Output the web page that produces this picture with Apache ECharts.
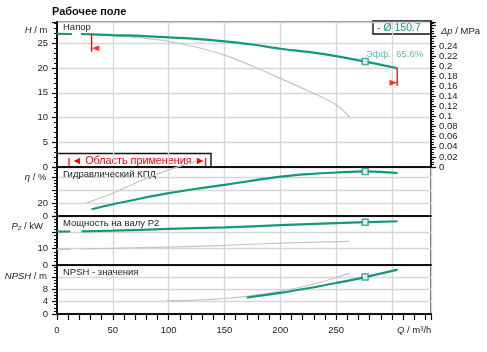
<!DOCTYPE html>
<html>
<head>
<meta charset="utf-8">
<title>Рабочее поле</title>
<script src="https://cdn.jsdelivr.net/npm/echarts@6/dist/echarts.min.js"></script>
<style>
  html, body { margin: 0; padding: 0; background: #fff; }
  #chart { width: 487px; height: 352px; }
</style>
</head>
<body>
<div id="chart"></div>
<script>
// Q / m3/h range shared by all panels
var qMax = 335;
var qTicks = [0, 50, 100, 150, 200, 250];

// Напор H / m
var headStart = [[0, 26.9], [13.5, 26.88]];
var headCurve = [[21.5, 26.87], [50, 26.65], [75, 26.5], [100, 26.2], [125, 25.9], [150, 25.4], [175, 24.75], [200, 23.9], [225, 23.25], [250, 22.4], [276, 21.3], [305, 19.95]];
var headGray = [[21.5, 26.87], [50, 26.55], [75, 26.1], [100, 25.4], [125, 24.2], [150, 22.6], [175, 20.4], [200, 17.9], [225, 15.4], [250, 12.6], [262, 10.1]];

// Гидравлический КПД / %
var etaCurve = [[31, 10.3], [50, 18], [75, 26.8], [100, 34.9], [125, 41.7], [150, 47.7], [175, 54.2], [200, 60.3], [225, 64.2], [250, 66.6], [276, 68.2], [290, 67.6], [305, 65.7]];
var etaGray = [[27, 20.5], [50, 34.9], [75, 54], [100, 70.5], [125, 83.5]];

// Мощность на валу P2 / kW
var powerStart = [[0, 20.4], [12, 20.5]];
var powerCurve = [[22, 20.6], [50, 21.0], [100, 22.1], [150, 23.0], [200, 24.4], [250, 25.6], [276, 26.2], [305, 26.8]];
var powerGrayStart = [[0, 9.6], [12, 9.7]];
var powerGray = [[21, 9.8], [50, 10.2], [100, 11.0], [150, 12.0], [200, 13.4], [262, 14.5]];

// NPSH / m
var npshCurve = [[170, 5.3], [200, 6.8], [225, 8.3], [250, 10.0], [276, 11.9], [305, 14.3]];
var npshGray = [[98, 4.3], [125, 4.5], [150, 5.0], [175, 5.9], [200, 7.4], [225, 9.2], [245, 11.2], [262, 13.2]];

// duty point and limits
var duty = { q: 276, h: 21.3, eta: 68.2, p: 26.2, npsh: 11.9 };
var effText = 'Эфф.  65.6%';
var diameterText = '- Ø 150.7';
var leftLimit = [[31, 26.85], [31, 23.3]];
var leftArrow = [[31, 24.0]];
var rightLimit = [[304.7, 19.95], [304.7, 16.4]];
var rightArrow = [[304.7, 17.0]];

var hMax = 29.3;
var rho_g = 0.009807; // MPa per m water

var GREEN = '#13987e';
var GRAY = '#c4c4c4';
var RED = '#ff0000';
var FONT = '"Liberation Sans", Arial, sans-serif';

var chart = echarts.init(document.getElementById('chart'));

var gridLine = { show: true, lineStyle: { color: '#d6d6d6', width: 1.3 } };

function xAxis(idx, bottom) {
    return {
        type: 'value', gridIndex: idx, min: 0, max: qMax, interval: 50,
        axisLine: { show: true, lineStyle: { color: '#111', width: 2 } },
        axisTick: { show: bottom, length: 6, lineStyle: { color: '#111', width: 1.2 } },
        minorTick: { show: bottom, splitNumber: 5, length: 6, lineStyle: { color: '#111', width: 1.2 } },
        axisLabel: {
            show: bottom, color: '#222', fontSize: 9.5, fontFamily: FONT, margin: 11,
            formatter: function(v) { return qTicks.indexOf(v) >= 0 ? String(v) : ''; }
        },
        splitLine: gridLine
    };
}

function yAxis(idx, max, interval, minorSplit, shown) {
    return {
        type: 'value', gridIndex: idx, min: 0, max: max, interval: interval,
        axisLine: { show: true, lineStyle: { color: '#111', width: 2 } },
        axisTick: { show: true, length: 5, lineStyle: { color: '#111', width: 1.2 } },
        minorTick: { show: true, splitNumber: minorSplit, length: 3, lineStyle: { color: '#111', width: 1 } },
        axisLabel: {
            color: '#222', fontSize: 9.5, fontFamily: FONT, margin: 9,
            formatter: function(v) { return shown.indexOf(v) >= 0 ? String(v) : ''; }
        },
        splitLine: gridLine
    };
}

function curve(name, data, xi, color, width, extra) {
    var s = {
        name: name, type: 'line', xAxisIndex: xi, yAxisIndex: xi, data: data,
        smooth: 0.35, showSymbol: false, symbol: 'none',
        lineStyle: { color: color, width: width }, silent: true, animation: false, z: 3
    };
    return Object.assign(s, extra || {});
}

function dutyMark(xi, y, label) {
    var s = {
        type: 'scatter', xAxisIndex: xi, yAxisIndex: xi, data: [[duty.q, y]],
        symbol: 'rect', symbolSize: 6, silent: true, animation: false, z: 6,
        itemStyle: { color: '#fff', borderColor: GREEN, borderWidth: 1.5 }
    };
    if (label) {
        s.label = {
            show: true, position: 'right', distance: 0, offset: [-3, -7],
            formatter: label, color: '#34b09c', fontSize: 9.5, fontFamily: FONT
        };
    }
    return s;
}

function axisName(x, y, text, align) {
    return {
        type: 'text', x: x, y: y, z: 10,
        style: {
            text: text, fill: '#222', font: '9.5px ' + FONT,
            align: align || 'right', verticalAlign: 'middle',
            rich: { i: { fontStyle: 'italic', fontSize: 9.5, fontFamily: FONT, fill: '#222' } }
        }
    };
}

function panelLabel(y, text) {
    return { type: 'text', x: 63, y: y, z: 10, style: { text: text, fill: '#222', font: '9.5px ' + FONT, verticalAlign: 'middle' } };
}

var option = {
    backgroundColor: '#fff',
    animation: false,
    grid: [
        { left: 57, right: 56, top: 22, height: 145, show: true, borderColor: '#111', borderWidth: 1.2 },
        { left: 57, right: 56, top: 167, height: 49, show: true, borderColor: '#111', borderWidth: 1.2 },
        { left: 57, right: 56, top: 216, height: 49, show: true, borderColor: '#111', borderWidth: 1.2 },
        { left: 57, right: 56, top: 265, height: 49, show: true, borderColor: '#111', borderWidth: 1.2 }
    ],
    xAxis: [xAxis(0, false), xAxis(1, false), xAxis(2, false), xAxis(3, true)],
    yAxis: [
        yAxis(0, hMax, 5, 5, [0, 5, 10, 15, 20, 25]),
        yAxis(1, 75, 20, 4, [0, 20]),
        yAxis(2, 30, 10, 5, [0, 10]),
        yAxis(3, 15.8, 4, 4, [0, 4, 8]),
        {
            // Δp / MPa on the head panel
            type: 'value', gridIndex: 0, position: 'right', min: 0, max: hMax * rho_g, interval: 0.02,
            axisLine: { show: true, lineStyle: { color: '#111', width: 2 } },
            axisTick: { show: true, length: 5, lineStyle: { color: '#111', width: 1.2 } },
            minorTick: { show: true, splitNumber: 4, length: 3, lineStyle: { color: '#111', width: 1 } },
            axisLabel: {
                color: '#222', fontSize: 9.5, fontFamily: FONT, margin: 8,
                formatter: function(v) { return v <= 0.245 ? String(+v.toFixed(2)) : ''; }
            },
            splitLine: { show: false }
        }
    ],
    series: [
        curve('headGray', headGray, 0, GRAY, 1.2),
        curve('headStart', headStart, 0, GREEN, 2.2),
        curve('head', headCurve, 0, GREEN, 2.2),
        {
            type: 'line', xAxisIndex: 0, yAxisIndex: 0, data: leftLimit, symbol: 'none',
            lineStyle: { color: RED, width: 1.3 }, silent: true, animation: false, z: 5
        },
        {
            type: 'line', xAxisIndex: 0, yAxisIndex: 0, data: rightLimit, symbol: 'none',
            lineStyle: { color: RED, width: 1.3 }, silent: true, animation: false, z: 5
        },
        {
            type: 'scatter', xAxisIndex: 0, yAxisIndex: 0, data: leftArrow, symbol: 'triangle',
            symbolSize: [6, 7.5], symbolRotate: 90, symbolOffset: [4, 0],
            itemStyle: { color: RED }, silent: true, animation: false, z: 5
        },
        {
            type: 'scatter', xAxisIndex: 0, yAxisIndex: 0, data: rightArrow, symbol: 'triangle',
            symbolSize: [6, 7.5], symbolRotate: -90, symbolOffset: [-4, 0],
            itemStyle: { color: RED }, silent: true, animation: false, z: 5
        },
        dutyMark(0, duty.h, effText),

        curve('etaGray', etaGray, 1, GRAY, 1.2, { clip: false, z: 12 }),
        curve('eta', etaCurve, 1, GREEN, 2.2),
        dutyMark(1, duty.eta),

        curve('powerGrayStart', powerGrayStart, 2, GRAY, 1.5),
        curve('powerGray', powerGray, 2, GRAY, 1.2),
        curve('powerStart', powerStart, 2, GREEN, 2.2),
        curve('power', powerCurve, 2, GREEN, 2.2),
        dutyMark(2, duty.p),

        curve('npshGray', npshGray, 3, GRAY, 1.2),
        curve('npsh', npshCurve, 3, GREEN, 2.2),
        dutyMark(3, duty.npsh)
    ],
    graphic: [
        { type: 'text', x: 52, y: 12, style: { text: 'Рабочее поле', fill: '#111', font: 'bold 11px ' + FONT, verticalAlign: 'middle' } },
        axisName(47.5, 30.5, '{i|H} / m'),
        axisName(46.5, 177.5, '{i|η} / %'),
        axisName(43, 226.5, '{i|P₂} / kW'),
        axisName(47, 276, '{i|NPSH} / m'),
        axisName(397, 330, '{i|Q} / m³/h', 'left'),
        axisName(441, 31, '{i|Δp} / MPa', 'left'),
        panelLabel(27, 'Напор'),
        panelLabel(174.5, 'Гидравлический КПД'),
        panelLabel(223, 'Мощность на валу P2'),
        panelLabel(272.5, 'NPSH - значения'),
        // diameter legend box
        {
            type: 'group', z: 10,
            children: [
                { type: 'rect', shape: { x: 373, y: 21, width: 58.5, height: 13 }, style: { fill: '#fff', stroke: '#111', lineWidth: 1.4 } },
                { type: 'text', x: 377, y: 27.8, style: { text: diameterText, fill: GREEN, font: '10.5px ' + FONT, verticalAlign: 'middle' } }
            ]
        },
        // Область применения box
        {
            type: 'group', z: 8,
            children: [
                { type: 'rect', shape: { x: 57, y: 153.5, width: 154, height: 13.5 }, style: { fill: '#fff', stroke: '#111', lineWidth: 1.4 } },
                { type: 'line', shape: { x1: 69, y1: 158, x2: 69, y2: 166.5 }, style: { stroke: RED, lineWidth: 1.2 } },
                { type: 'line', shape: { x1: 205.7, y1: 158, x2: 205.7, y2: 166.5 }, style: { stroke: RED, lineWidth: 1.2 } },
                { type: 'text', x: 71.5, y: 161, style: { text: '◄ Область применения ►', fill: RED, font: '10.8px ' + FONT, verticalAlign: 'middle' } }
            ]
        }
    ]
};

chart.setOption(option);
</script>
</body>
</html>
